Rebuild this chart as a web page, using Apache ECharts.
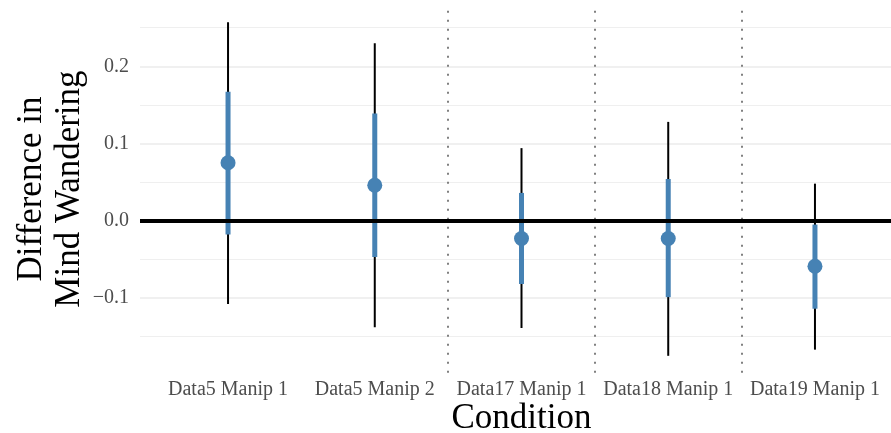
<!DOCTYPE html>
<html>
<head>
<meta charset="utf-8">
<script src="https://cdn.jsdelivr.net/npm/echarts@6/dist/echarts.min.js"></script>
<style>
  html, body { margin: 0; padding: 0; background: #fff; }
  #chart { width: 891px; height: 433px; }
</style>
</head>
<body>
<div id="chart"></div>
<script>
// 条件
var conditions = ['Data5 Manip 1', 'Data5 Manip 2', 'Data17 Manip 1', 'Data18 Manip 1', 'Data19 Manip 1'];
// 点估计
var estimate = [0.075, 0.046, -0.023, -0.023, -0.059];
// 粗线区间
var innerLow = [-0.018, -0.047, -0.082, -0.099, -0.114];
var innerHigh = [0.167, 0.139, 0.036, 0.054, -0.005];
// 细线区间
var outerLow = [-0.108, -0.138, -0.139, -0.175, -0.167];
var outerHigh = [0.257, 0.230, 0.094, 0.128, 0.048];
// 刻度
var yTicks = [-0.1, 0, 0.1, 0.2];
var yMinor = [-0.15, -0.05, 0.05, 0.15, 0.25];
var separators = [2.5, 3.5, 4.5];

var font = 'Liberation Serif';

var pts = [];
for (var i = 0; i < conditions.length; i++) {
  pts.push([i + 1, estimate[i], innerLow[i], innerHigh[i], outerLow[i], outerHigh[i]]);
}

function gridLines(vals, w) {
  return vals.map(function(v) {
    return { yAxis: v, lineStyle: { color: '#ebebeb', width: w, type: 'solid' } };
  });
}

var option = {
  animation: false,
  backgroundColor: '#fff',
  grid: { left: 140, top: 5.3, width: 763, height: 367.5, containLabel: false, outerBoundsMode: 'none' },
  xAxis: {
    type: 'value',
    min: 0.4,
    max: 5.6,
    axisLine: { show: false },
    axisTick: { show: false },
    splitLine: { show: false },
    axisLabel: {
      customValues: [1, 2, 3, 4, 5],
      formatter: function(v) { return conditions[Math.round(v) - 1]; },
      color: '#4d4d4d',
      fontFamily: font,
      fontSize: 20,
      margin: 7
    },
    name: 'Condition',
    nameLocation: 'middle',
    nameGap: 29,
    nameMoveOverlap: false,
    nameTextStyle: { fontFamily: font, fontSize: 35, color: '#000', lineHeight: 35 }
  },
  yAxis: {
    type: 'value',
    min: -0.197,
    max: 0.279,
    axisLine: { show: false },
    axisTick: { show: false },
    splitLine: { show: false },
    axisLabel: {
      customValues: yTicks,
      formatter: function(v) { return v.toFixed(1).replace('-', '\u2212'); },
      color: '#4d4d4d',
      fontFamily: font,
      fontSize: 20,
      margin: 11
    },
    name: 'Difference in\nMind Wandering',
    nameLocation: 'middle',
    nameGap: 51,
    nameMoveOverlap: false,
    nameTextStyle: { fontFamily: font, fontSize: 35, color: '#000', lineHeight: 38 }
  },
  series: [
    {
      // 背景网格 + 分隔虚线
      type: 'line',
      data: [],
      silent: true,
      markLine: {
        z: 1,
        silent: true,
        symbol: 'none',
        label: { show: false },
        data: gridLines(yTicks, 1.5).concat(gridLines(yMinor, 0.8)).concat(
          separators.map(function(s) {
            return { xAxis: s, lineStyle: { color: '#808080', width: 2, type: [2, 7] } };
          })
        )
      }
    },
    {
      type: 'custom',
      data: pts,
      z: 2,
      renderItem: function(params, api) {
        var x = api.value(0);
        var p = api.coord([x, api.value(1)]);
        var il = api.coord([x, api.value(2)]);
        var ih = api.coord([x, api.value(3)]);
        var ol = api.coord([x, api.value(4)]);
        var oh = api.coord([x, api.value(5)]);
        return {
          type: 'group',
          children: [
            { type: 'line', shape: { x1: ol[0], y1: ol[1], x2: oh[0], y2: oh[1] },
              style: { stroke: '#000', lineWidth: 2 } },
            { type: 'line', shape: { x1: il[0], y1: il[1], x2: ih[0], y2: ih[1] },
              style: { stroke: '#4682b4', lineWidth: 5 } },
            { type: 'circle', shape: { cx: p[0], cy: p[1], r: 7.5 },
              style: { fill: '#4682b4' } }
          ]
        };
      },
      markLine: {
        z: 5,
        silent: true,
        symbol: 'none',
        label: { show: false },
        data: [{ yAxis: 0, lineStyle: { color: '#000', width: 4, type: 'solid' } }]
      }
    }
  ]
};

echarts.init(document.getElementById('chart')).setOption(option);
</script>
</body>
</html>
